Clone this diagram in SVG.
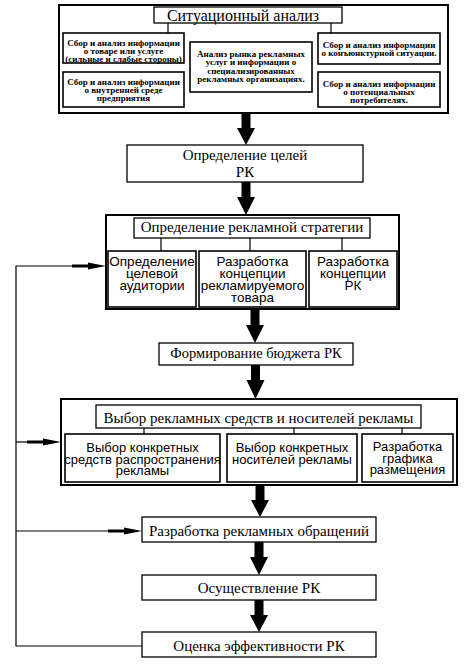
<svg xmlns="http://www.w3.org/2000/svg" width="474" height="672" viewBox="0 0 474 672">
<style>
.bx{fill:#fff;stroke:#000;stroke-width:1.3}
.ob{fill:#fff;stroke:#000;stroke-width:2}
.sb{fill:#fff;stroke:#000;stroke-width:1.6}
.ln{fill:none;stroke:#000;stroke-width:1.2}
.ba{fill:#000}
.ser{font-family:"Liberation Serif","DejaVu Serif",serif;fill:#000;text-anchor:middle}
.sm{font-family:"Liberation Serif","DejaVu Serif",serif;font-size:9px;font-weight:bold;fill:#000;text-anchor:middle}
.san{font-family:"Liberation Sans","DejaVu Sans",sans-serif;fill:#000;text-anchor:middle}
</style>
<defs>
<path id="fa" d="M-34,-1.6 L-18,-1.6 L-18,-3.6 L0,0 L-18,3.6 L-18,1.6 L-34,1.6 Z"/>
</defs>
<rect width="474" height="672" fill="#fff"/>

<g id="situation">
<rect class="ob" x="59" y="5" width="389" height="108"/>
<rect class="bx" x="154" y="7" width="188" height="16"/>
<text class="ser" x="243" y="20.5" font-size="16">Ситуационный анализ</text>
</g>
<g id="info-product">
<rect class="sb" x="63" y="33" width="121" height="30"/>
<text class="sm" x="123.5" y="46">Сбор и анализ информации</text>
<text class="sm" x="123.5" y="54">о товаре или услуге</text>
<text class="sm" x="123.5" y="62">(сильные и слабые стороны)</text>
</g>
<g id="info-internal">
<rect class="sb" x="63" y="72" width="121" height="35"/>
<text class="sm" x="123.5" y="84.5">Сбор и анализ информации</text>
<text class="sm" x="123.5" y="92.5">о внутренней среде</text>
<text class="sm" x="123.5" y="100.5">предприятия</text>
</g>
<g id="market-analysis">
<rect class="sb" x="190" y="42" width="122" height="50"/>
<text class="sm" x="251" y="56.5">Анализ рынка рекламных</text>
<text class="sm" x="251" y="65">услуг и информации о</text>
<text class="sm" x="251" y="73.5">специализированных</text>
<text class="sm" x="251" y="82">рекламных организациях.</text>
</g>
<g id="info-conjuncture">
<rect class="sb" x="318" y="33" width="122" height="31"/>
<text class="sm" x="379" y="47.5">Сбор и анализ информации</text>
<text class="sm" x="379" y="55.5">о конъюнктурной ситуации.</text>
</g>
<g id="info-consumers">
<rect class="sb" x="318" y="72" width="122" height="35"/>
<text class="sm" x="379" y="86.5">Сбор и анализ информации</text>
<text class="sm" x="379" y="94.5">о потенциальных</text>
<text class="sm" x="379" y="102.5">потребителях.</text>
</g>

<g id="goals">
<rect class="bx" x="127" y="145" width="236" height="37"/>
<text class="ser" x="245" y="160" font-size="15">Определение целей</text>
<text class="ser" x="245" y="177" font-size="15">РК</text>
</g>

<g id="strategy">
<rect class="ob" x="106" y="215" width="293" height="94"/>
<rect class="bx" x="134" y="218" width="236" height="20"/>
<text class="ser" x="252" y="232" font-size="15">Определение рекламной стратегии</text>
</g>
<g id="target-audience">
<rect class="sb" x="108" y="251" width="88" height="56"/>
<text class="san" x="152" y="265.5" font-size="13.5">Определение</text>
<text class="san" x="152" y="277.5" font-size="13.5">целевой</text>
<text class="san" x="152" y="289.5" font-size="13.5">аудитории</text>
</g>
<g id="product-concept">
<rect class="sb" x="199" y="251" width="107" height="56"/>
<text class="san" x="252.5" y="266" font-size="13.5">Разработка</text>
<text class="san" x="252.5" y="278" font-size="13.5">концепции</text>
<text class="san" x="252.5" y="290" font-size="13.5">рекламируемого</text>
<text class="san" x="252.5" y="302" font-size="13.5">товара</text>
</g>
<g id="campaign-concept">
<rect class="sb" x="309" y="251" width="88" height="56"/>
<text class="san" x="353" y="266" font-size="13.5">Разработка</text>
<text class="san" x="353" y="278" font-size="13.5">концепции</text>
<text class="san" x="353" y="290" font-size="13.5">РК</text>
</g>

<g id="budget">
<rect class="bx" x="159" y="343" width="194" height="22"/>
<text class="ser" x="256" y="358" font-size="14.5">Формирование бюджета РК</text>
</g>

<g id="media">
<rect class="ob" x="61" y="399" width="396" height="86"/>
<rect class="bx" x="96" y="405" width="325" height="23"/>
<text class="ser" x="258.5" y="423" font-size="15">Выбор рекламных средств и носителей рекламы</text>
</g>
<g id="channels">
<rect class="sb" x="65" y="434" width="155" height="48"/>
<text class="san" x="142.5" y="452" font-size="13">Выбор конкретных</text>
<text class="san" x="142.5" y="463.5" font-size="13">средств распространения</text>
<text class="san" x="142.5" y="474.5" font-size="13">рекламы</text>
</g>
<g id="carriers">
<rect class="sb" x="227" y="434" width="130" height="48"/>
<text class="san" x="292" y="452" font-size="13">Выбор конкретных</text>
<text class="san" x="292" y="463.5" font-size="13">носителей рекламы</text>
</g>
<g id="schedule">
<rect class="sb" x="362" y="434" width="91" height="48"/>
<text class="san" x="407.5" y="451" font-size="13">Разработка</text>
<text class="san" x="407.5" y="462.5" font-size="13">графика</text>
<text class="san" x="407.5" y="474" font-size="13">размещения</text>
</g>

<g id="messages">
<rect class="bx" x="142" y="517" width="234" height="25"/>
<text class="ser" x="259" y="536" font-size="15">Разработка рекламных обращений</text>
</g>
<g id="implementation">
<rect class="bx" x="142" y="575" width="234" height="25"/>
<text class="ser" x="259" y="593" font-size="15">Осуществление РК</text>
</g>
<g id="evaluation">
<rect class="bx" x="142" y="632" width="234" height="25"/>
<text class="ser" x="259" y="651" font-size="15">Оценка эффективности РК</text>
</g>

<g id="connectors">
<path class="ln" d="M168,23 V33 M331,23 V33"/>
<path class="ln" d="M161,238 V251 M250,238 V251 M342,238 V251"/>
<path class="ln" d="M144,428 V434 M294,428 V434 M402,428 V434"/>
<path class="ba" d="M241.5,113 H250.5 V128 H255 L246,145 L237,128 H241.5 Z"/>
<path class="ba" d="M241.5,182 H250.5 V197 H255 L246,215 L237,197 H241.5 Z"/>
<path class="ba" d="M250.5,309 H259.5 V325 H264 L255,343 L246,325 H250.5 Z"/>
<path class="ba" d="M251,365 H260 V380 H264.5 L255.5,399 L246.5,380 H251 Z"/>
<path class="ba" d="M255.5,485 H264.5 V500 H269 L260,517 L251,500 H255.5 Z"/>
<path class="ba" d="M254.5,542 H263.5 V557 H268 L259,575 L250,557 H254.5 Z"/>
<path class="ba" d="M254.5,600 H263.5 V615 H268 L259,632 L250,615 H254.5 Z"/>
<path class="ln" d="M142,646 H16 V266 H90"/>
<path class="ln" d="M16,442 H30"/>
<path class="ln" d="M16,531 H110"/>
<use href="#fa" x="106" y="266"/>
<use href="#fa" x="61" y="442"/>
<use href="#fa" x="142" y="531"/>
</g>
</svg>
